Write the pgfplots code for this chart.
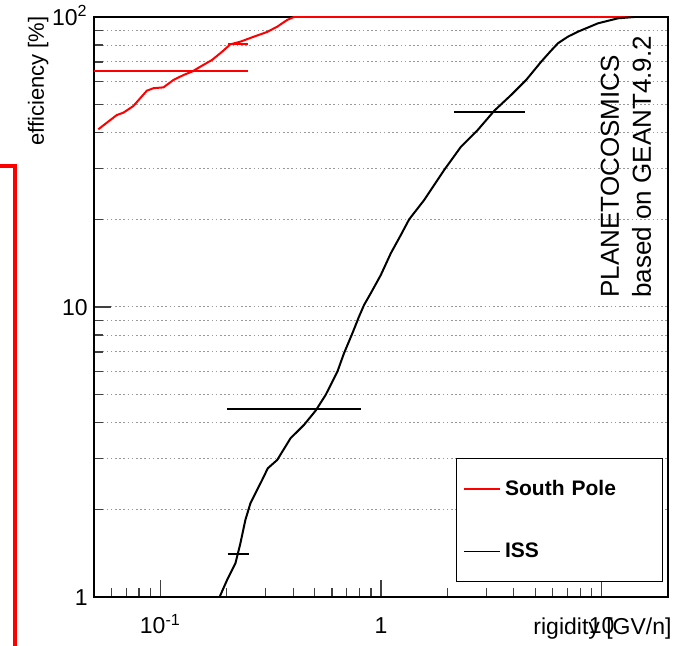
\documentclass[border=0pt]{standalone}
\usepackage{fontspec}
\setmainfont{Liberation Sans}
\usepackage{pgfplots}
\pgfplotsset{compat=1.18}
\pgfplotstableread{
x y
0.0523 41.0
0.0634 45.9
0.0680 46.8
0.0754 49.3
0.0868 55.7
0.0930 56.8
0.1033 57.2
0.1147 60.7
0.1274 63.1
0.1390 64.8
0.1517 67.4
0.1714 71.1
0.1904 75.9
0.2075 80.5
0.2305 82.2
0.2649 85.5
0.3048 88.8
0.3384 92.6
0.3758 97.7
0.4027 100
20 100
}\southpole
\pgfplotstableread{
x y
0.181 0.97
0.1855 1.0
0.2005 1.144
0.2188 1.307
0.2305 1.532
0.2428 1.844
0.2559 2.104
0.2892 2.532
0.3067 2.778
0.3384 2.968
0.3890 3.526
0.4472 3.918
0.5053 4.389
0.5610 4.972
0.6342 5.98
0.6796 6.923
0.742 8.117
0.795 9.26
0.838 10.16
0.8986 11.15
0.998 12.89
1.108 15.32
1.230 17.71
1.342 20.06
1.570 23.39
1.935 29.69
2.305 35.71
2.745 40.77
3.266 47.54
3.890 53.83
4.551 60.65
5.325 70.13
5.85 76.0
6.342 81.17
7.05 85.6
7.816 88.99
9.638 95.13
11.88 98.97
14.09 100
20 100
}\iss
\begin{document}
\begin{tikzpicture}
\useasboundingbox (0,0) rectangle (338.5pt,323pt);
\begin{scope}
\clip (0,0) rectangle (338.5pt,323pt);
\draw[red, line width=2pt] (0pt,240.2pt) -- (7.7pt,240.2pt) -- (7.7pt,0pt);
\end{scope}
\begin{axis}[
  at={(47pt,24.5pt)}, anchor=south west,
  width=287pt, height=290pt, scale only axis,
  xmode=log, ymode=log,
  xmin=0.05, xmax=20, ymin=1, ymax=100,
  xtick={0.1,1,10}, xticklabels={10\textsuperscript{-1},1,10},
  ytick={1,10,100}, yticklabels={1,10,10\textsuperscript{2}},
  minor xtick={0.06,0.07,0.08,0.09,0.2,0.3,0.4,0.5,0.6,0.7,0.8,0.9,2,3,4,5,6,7,8,9},
  minor ytick={2,3,4,5,6,7,8,9,20,30,40,50,60,70,80,90},
  tick align=inside, xtick pos=left, ytick pos=left,
  major tick length=8.5pt, minor tick length=4.5pt,
  every tick/.style={black!75, line width=0.6pt},
  ymajorgrids, yminorgrids,
  major grid style={gray!80, dash pattern=on 0.8pt off 1.3pt, line width=0.5pt},
  minor grid style={gray!80, dash pattern=on 0.8pt off 1.3pt, line width=0.5pt},
  axis line style={black, line width=0.8pt},
  /pgf/number format/assume math mode=true,
  ticklabel style={font=\fontsize{11.5}{13}\selectfont},
  xticklabel style={anchor=base, text height=8.3pt, text depth=0pt, yshift=-18.5pt},
  yticklabel style={anchor=east, text height=8.3pt, text depth=0pt, inner xsep=3pt},
  xlabel={rigidity [GV/n]}, ylabel={efficiency [\%]},
  every axis x label/.style={at={(rel axis cs:1,0)}, xshift=5.3pt, yshift=-19pt, anchor=base east, font=\fontsize{11.5}{13}\selectfont},
  every axis y label/.style={at={(rel axis cs:0,1)}, xshift=-25pt, yshift=3.8pt, rotate=90, anchor=base east, font=\fontsize{11}{13}\selectfont},
  legend style={at={(rel axis cs:0.6307,0.0259)}, anchor=south west, draw=black, line width=0.5pt, fill=white,
    font=\bfseries\fontsize{10.5}{12}\selectfont, inner xsep=3.5pt, inner ysep=8.6pt, row sep=18.2pt,
    nodes={text width=73pt, align=left}},
  legend cell align=left,
  legend image code/.code={\draw[#1, line width=0.8pt] (0pt,0pt) -- (18pt,0pt);},
]
\addplot[red, line width=1pt] table[x=x,y=y] {\southpole};
\addlegendentry{South Pole}
\addplot[black, line width=1pt] table[x=x,y=y] {\iss};
\addlegendentry{ISS}
\addplot[red, line width=1pt, forget plot] coordinates {(0.05,65.3) (0.2506,65.3)};
\addplot[red, line width=1pt, forget plot] coordinates {(0.2026,80.5) (0.2506,80.5)};
\addplot[black, line width=1pt, forget plot] coordinates {(0.2018,1.407) (0.2532,1.407)};
\addplot[black, line width=1pt, forget plot] coordinates {(0.2012,4.438) (0.809,4.438)};
\addplot[black, line width=1pt, forget plot] coordinates {(2.149,47.16) (4.518,47.16)};
\end{axis}
\node[rotate=90, anchor=base west, inner sep=0pt, font=\fontsize{13}{15}\selectfont] at (309.5pt,174pt) {PLANETOCOSMICS};
\node[rotate=90, anchor=base west, inner sep=0pt, font=\fontsize{13}{15}\selectfont] at (325.5pt,174pt) {based on GEANT4.9.2};
\end{tikzpicture}
\end{document}
